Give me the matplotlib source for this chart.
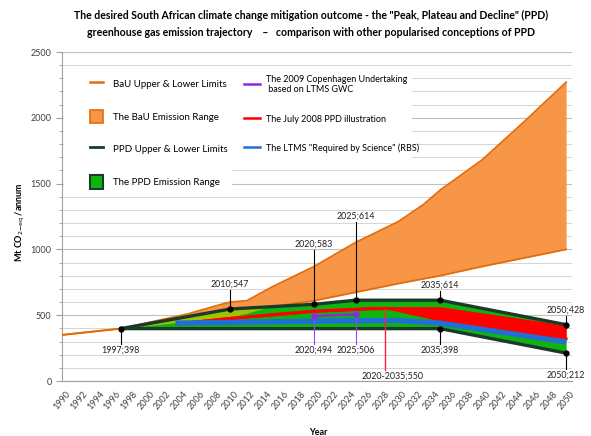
import numpy as np
import matplotlib
matplotlib.use("Agg")
import matplotlib.pyplot as plt
from matplotlib.patches import Rectangle, Patch
from matplotlib.lines import Line2D
from matplotlib.ticker import MultipleLocator

plt.rcParams["font.family"] = ["Lato", "DejaVu Sans"]

# BaU range (Mt CO2-eq / annum)
bau_years = [1990, 1995, 1997, 2000, 2005, 2008, 2010, 2012, 2015, 2020, 2025, 2030, 2033, 2035, 2040, 2045, 2050]
bau_upper = [350, 385, 398, 440, 510, 565, 600, 610, 715, 870, 1055, 1210, 1340, 1450, 1680, 1970, 2270]
bau_low_years = [1990, 1997, 2010, 2015, 2020, 2025, 2030, 2035, 2040, 2045, 2050]
bau_lower = [350, 398, 547, 565, 610, 675, 740, 800, 870, 935, 1000]

# PPD range
ppd_up_years = [1997, 2010, 2020, 2025, 2035, 2050]
ppd_upper = [398, 547, 583, 614, 614, 428]
ppd_low_years = [1997, 2035, 2050]
ppd_lower = [398, 398, 212]

# yellow-green patch inside the early PPD range
olive_years = [1997, 2003, 2008, 2012, 2014.5]
olive_low = [398, 440, 458, 515, 562]

# July 2008 PPD illustration
red_years = [2004, 2010, 2020, 2027, 2029, 2035, 2050]
red_top = [435, 475, 530, 550, 550, 550, 410]
red_bot = [435, 475, 530, 550, 550, 465, 320]

# LTMS "Required by Science"
blue_years = [2003.5, 2010, 2020, 2030, 2035, 2050]
blue_vals = [440, 445, 455, 460, 440, 297]

# 2009 Copenhagen undertaking
cop_years = [2020, 2025]
cop_vals = [494, 506]

# callouts: (x, y, text, text_y, colour)
callouts = [
    (1997, 398, "1997;398", 236, "black"),
    (2010, 547, "2010;547", 737, "black"),
    (2020, 583, "2020;583", 1041, "black"),
    (2025, 614, "2025;614", 1254, "black"),
    (2035, 614, "2035;614", 730, "black"),
    (2035, 398, "2035;398", 236, "black"),
    (2050, 428, "2050;428", 540, "black"),
    (2050, 212, "2050;212", 46, "black"),
    (2020, 494, "2020;494", 236, "#a040ff"),
    (2025, 506, "2025;506", 236, "#a040ff"),
]
red_call = (2028.5, 550, "2020-2035;550", 38)

ORANGE = "#f79646"
ORANGE_L = "#e46c0a"
DARK = "#1b3b2a"
GREEN = "#0fb40f"
OLIVE = "#9cc400"
RED = "#ff0000"
BLUE = "#1f6fd6"
PURPLE = "#8a2be2"

fig = plt.figure(figsize=(5.91, 4.36), dpi=100)
ax = fig.add_axes([62 / 591, 1 - 381 / 436, 510 / 591, 329 / 436])

ax.set_xlim(1990, 2050.7)
ax.set_ylim(0, 2500)
ax.yaxis.set_major_locator(MultipleLocator(500))
ax.yaxis.set_minor_locator(MultipleLocator(100))
ax.xaxis.set_major_locator(MultipleLocator(2))
ax.grid(True, which="major", axis="y", color="#c0c0c0", lw=0.8, zorder=0)
ax.grid(True, which="minor", axis="y", color="#d4d4d4", lw=0.7, zorder=0)
ax.set_axisbelow(True)
for s in ["top", "right"]:
    ax.spines[s].set_visible(False)
for s in ["left", "bottom"]:
    ax.spines[s].set_color("#a0a0a0")
ax.tick_params(axis="y", which="major", length=4, color="#a0a0a0", labelsize=6.5, labelcolor="#404040")
ax.tick_params(axis="y", which="minor", length=2.5, color="#a0a0a0")
ax.tick_params(axis="x", length=0, labelsize=6.5, labelcolor="#404040", pad=6)
plt.setp(ax.get_xticklabels(), rotation=50, ha="center")

# white legend panels
ax.add_patch(Rectangle((0.003, 0.574), 0.33, 0.371, transform=ax.transAxes, fc="white", ec="none", zorder=1))
ax.add_patch(Rectangle((0.33, 0.657), 0.356, 0.288, transform=ax.transAxes, fc="white", ec="none", zorder=1))

# BaU
bx = np.array(bau_years, dtype=float)
lo_on_up = np.interp(bx, bau_low_years, bau_lower)
ax.fill_between(bx, lo_on_up, bau_upper, color=ORANGE, lw=0, zorder=2)
ax.plot(bau_years, bau_upper, color=ORANGE_L, lw=1.3, zorder=3)
ax.plot(bau_low_years, bau_lower, color=ORANGE_L, lw=1.3, zorder=3)

# PPD range
px = np.array(sorted(set(ppd_up_years + ppd_low_years)), dtype=float)
ax.fill_between(px, np.interp(px, ppd_low_years, ppd_lower), np.interp(px, ppd_up_years, ppd_upper),
                color=GREEN, lw=0, zorder=4)
oy = np.array(olive_years)
ax.fill_between(oy, olive_low, np.interp(oy, ppd_up_years, ppd_upper), color=OLIVE, lw=0, zorder=5)

# July 2008 illustration
ax.fill_between(red_years, red_bot, red_top, color=RED, lw=0, zorder=6)
ax.plot(red_years, red_top, color=RED, lw=2.2, zorder=6)
ax.plot(red_years, red_bot, color=RED, lw=2.2, zorder=6)

# RBS
ax.plot(blue_years, blue_vals, color=BLUE, lw=3.8, zorder=7, solid_capstyle="butt")

# Copenhagen
ax.plot(cop_years, cop_vals, color=PURPLE, lw=1.8, zorder=8)

# PPD limits
ax.plot(ppd_up_years, ppd_upper, color=DARK, lw=2.4, zorder=9)
ax.plot(ppd_low_years, ppd_lower, color=DARK, lw=2.4, zorder=9)

# callouts
for x, y, s, ty, c in callouts:
    edge = ty + 45 if ty < y else ty - 45
    ax.plot([x, x], [y, edge], color=c, lw=0.8, zorder=10)
    ax.plot(x, y, "o", color="black" if c == "black" else PURPLE, ms=3.5, zorder=11)
    ax.text(x, ty, s, ha="center", va="center", fontsize=6.4, color="#202020", zorder=12, clip_on=False)
rx, ry, rs, rty = red_call
ax.plot([rx, rx], [ry, rty + 45], color="#ff2040", lw=1.0, zorder=10)
ax.text(rx + 0.9, rty, rs, ha="center", va="center", fontsize=6.4, color="#202020", zorder=12)

# legends
left_handles = [
    Line2D([], [], color=ORANGE_L, lw=1.8),
    Patch(fc=ORANGE, ec=ORANGE_L, lw=1.2),
    Line2D([], [], color=DARK, lw=2),
    Patch(fc=GREEN, ec=DARK, lw=1.5),
]
left_labels = ["BaU Upper & Lower Limits", "The BaU Emission Range",
               "PPD Upper & Lower Limits", "The PPD Emission Range"]
leg1 = ax.legend(left_handles, left_labels, loc="upper left", bbox_to_anchor=(0.047, 0.936),
                 frameon=False, fontsize=7, handlelength=1.4, handleheight=1.8,
                 labelspacing=1.95, handletextpad=1.0, borderaxespad=0)
ax.add_artist(leg1)
right_handles = [Line2D([], [], color=PURPLE, lw=1.8), Line2D([], [], color=RED, lw=1.8),
                 Line2D([], [], color=BLUE, lw=1.8)]
right_labels = ["The 2009 Copenhagen Undertaking\n based on LTMS GWC", "The July 2008 PPD illustration",
                "The LTMS \"Required by Science\" (RBS)"]
ax.legend(right_handles, right_labels, loc="upper left", bbox_to_anchor=(0.35, 0.942),
          frameon=False, fontsize=6.5, handlelength=1.8, handleheight=1.2,
          labelspacing=2.2, handletextpad=0.6, borderaxespad=0)

ax.set_xlabel("Year", fontsize=6.5, fontweight="bold")
ax.xaxis.set_label_coords((318 - 62) / 510, -(428 - 381) / 329)
ax.set_ylabel(r"Mt CO$_{2\mathrm{-eq}}$ /annum", fontsize=6.5, fontweight="bold")
ax.yaxis.set_label_coords(-(62 - 27) / 510, (381 - 222) / 329)

fig.text(0.527, 1 - 15 / 436, "The desired South African climate change mitigation outcome - the \"Peak, Plateau and Decline\" (PPD)",
         ha="center", va="center", fontsize=7.6, fontweight="bold")
fig.text(0.527, 1 - 33 / 436, "greenhouse gas emission trajectory    \u2013   comparison with other popularised conceptions of PPD",
         ha="center", va="center", fontsize=7.6, fontweight="bold")

fig.savefig("out.png", dpi=100, facecolor="white")
